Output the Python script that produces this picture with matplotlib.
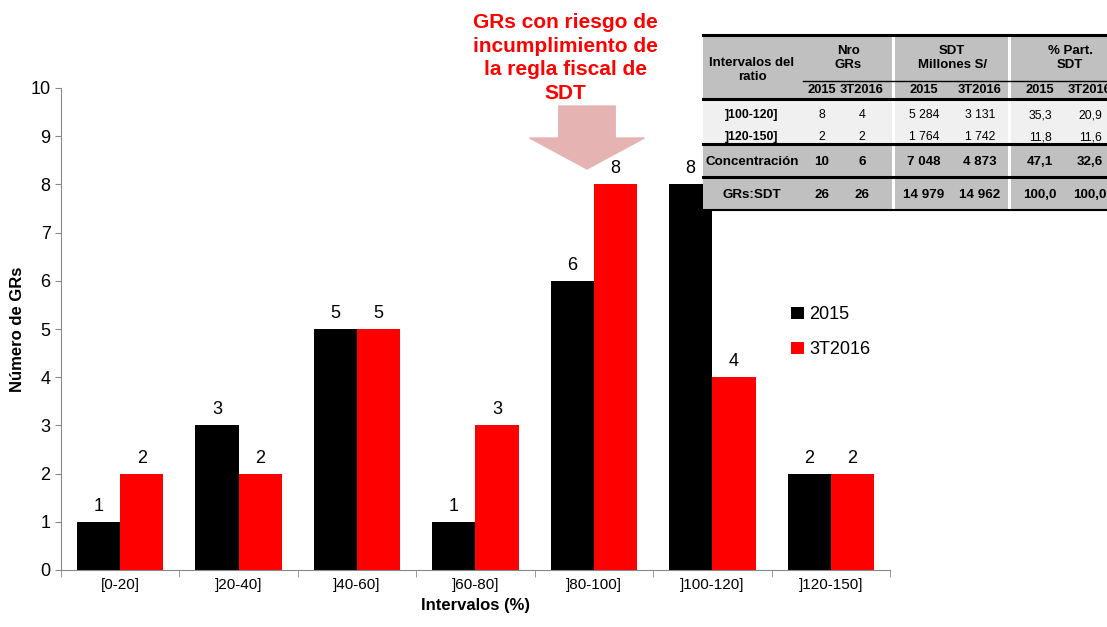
import matplotlib.pyplot as plt
import numpy as np
from matplotlib.patches import Rectangle, FancyArrow

plt.rcParams['font.family'] = ['Liberation Sans', 'DejaVu Sans']

categorias = ['[0-20]', ']20-40]', ']40-60]', ']60-80]', ']80-100]', ']100-120]', ']120-150]']
v2015 = [1, 3, 5, 1, 6, 8, 2]
v3t2016 = [2, 2, 5, 3, 8, 4, 2]

# tabla
tab_filas = [']100-120]', ']120-150]']
tab_nro = [(8, 4), (2, 2)]
tab_sdt = [('5 284', '3 131'), ('1 764', '1 742')]
tab_part = [('35,3', '20,9'), ('11,8', '11,6')]
tab_conc = ('10', '6', '7 048', '4 873', '47,1', '32,6')
tab_total = ('26', '26', '14 979', '14 962', '100,0', '100,0')

W, H = 1107, 627
fig = plt.figure(figsize=(W / 100, H / 100), dpi=100)
ax = fig.add_axes([61 / W, 1 - 570 / H, (890 - 61) / W, (570 - 88) / H])

x = np.arange(len(categorias))
w = 0.365
b1 = ax.bar(x - w / 2, v2015, w, color='black', label='2015')
b2 = ax.bar(x + w / 2, v3t2016, w, color='#ff0000', label='3T2016')
ax.bar_label(b1, padding=5, fontsize=13)
ax.bar_label(b2, padding=5, fontsize=13)

ax.set_xlim(-0.5, len(categorias) - 0.5)
ax.set_ylim(0, 10)
ax.set_yticks(range(0, 11))
ax.set_xticks(x)
ax.set_xticklabels(categorias, fontsize=11)
ax.set_xticks(np.arange(-0.5, len(categorias)), minor=True)
ax.tick_params(axis='y', labelsize=13, color='#888888', length=4)
ax.tick_params(axis='x', which='major', length=0, pad=6)
ax.tick_params(axis='x', which='minor', length=5, color='#888888')
for s in ['top', 'right']:
    ax.spines[s].set_visible(False)
for s in ['left', 'bottom']:
    ax.spines[s].set_color('#888888')
ax.set_xlabel('Intervalos (%)', fontsize=12, fontweight='bold', labelpad=4)
ax.set_ylabel('Número de GRs', fontsize=12, fontweight='bold', labelpad=4)

ax.legend(loc='upper left', bbox_to_anchor=(775 / W, 1 - 290 / H), bbox_transform=fig.transFigure,
          frameon=False, fontsize=13, handlelength=0.7, handleheight=0.7, handletextpad=0.3,
          labelspacing=1.0)


def fx(px):
    return px / W


def fy(py):
    return 1 - py / H


# texto y flecha
fig.text(fx(565), fy(58), 'GRs con riesgo de\nincumplimiento de\nla regla fiscal de\nSDT', color='#ff0000',
         fontsize=15, fontweight='bold', ha='center', va='center', linespacing=1.3)
fig.add_artist(FancyArrow(fx(587), fy(106), 0, fy(169) - fy(106), width=(603 - 571) / H,
                          head_width=(619 - 554) / H, head_length=(169 - 138) / H,
                          length_includes_head=True, color='#e6b3b3', transform=fig.transFigure))


# tabla dibujada a mano
def rect(x0, y0, x1, y1, color):
    fig.add_artist(Rectangle((fx(x0), fy(y1)), fx(x1) - fx(x0), fy(y0) - fy(y1),
                             facecolor=color, edgecolor='none', transform=fig.transFigure))


def hline(x0, x1, y, lw):
    fig.add_artist(plt.Line2D([fx(x0), fx(x1)], [fy(y), fy(y)], color='black', lw=lw,
                              transform=fig.transFigure))


def txt(px, py, s, bold=True, size=8.5, ha='center'):
    fig.text(fx(px), fy(py), s, fontsize=size, fontweight='bold' if bold else 'normal',
             ha=ha, va='center', linespacing=1.15)


gris = '#c0c0c0'
claro = '#f0f0f0'
rect(703, 35, 1107, 99, gris)
rect(703, 99, 1107, 144, claro)
rect(703, 144, 1107, 177, gris)
rect(703, 177, 1107, 210, gris)
for xs in [892, 1008]:
    rect(xs, 35, xs + 3, 210, 'white')
hline(703, 1107, 35, 2.2)
hline(803, 1107, 81, 1.0)
hline(703, 1107, 99, 2.2)
hline(703, 1107, 144, 2.2)
hline(703, 1107, 177, 2.2)
hline(703, 1107, 210, 1.5)

txt(752, 70, 'Intervalos del\nratio', size=9.5)
txt(848, 58, 'Nro\nGRs', size=9.5)
txt(952, 58, 'SDT\nMillones S/', size=9.5)
txt(1070, 58, '% Part.\nSDT', size=9.5)
col_x = [822, 862, 924, 980, 1040, 1090]
for cx, s in zip(col_x, ['2015', '3T2016'] * 3):
    txt(cx, 90, s, size=9.3)

row_y = [115, 137]
for i, ry in enumerate(row_y):
    txt(752, ry, tab_filas[i], size=8.8)
    vals = list(tab_nro[i]) + list(tab_sdt[i]) + list(tab_part[i])
    for cx, v in zip(col_x, vals):
        txt(cx, ry, str(v), bold=False, size=8.8)

txt(752, 162, 'Concentración', size=9.6)
for cx, v in zip(col_x, tab_conc):
    txt(cx, 162, v, size=9.6)
txt(752, 195, 'GRs:SDT', size=9.6)
for cx, v in zip(col_x, tab_total):
    txt(cx, 195, v, size=9.6)

fig.savefig('out.png', dpi=100)
